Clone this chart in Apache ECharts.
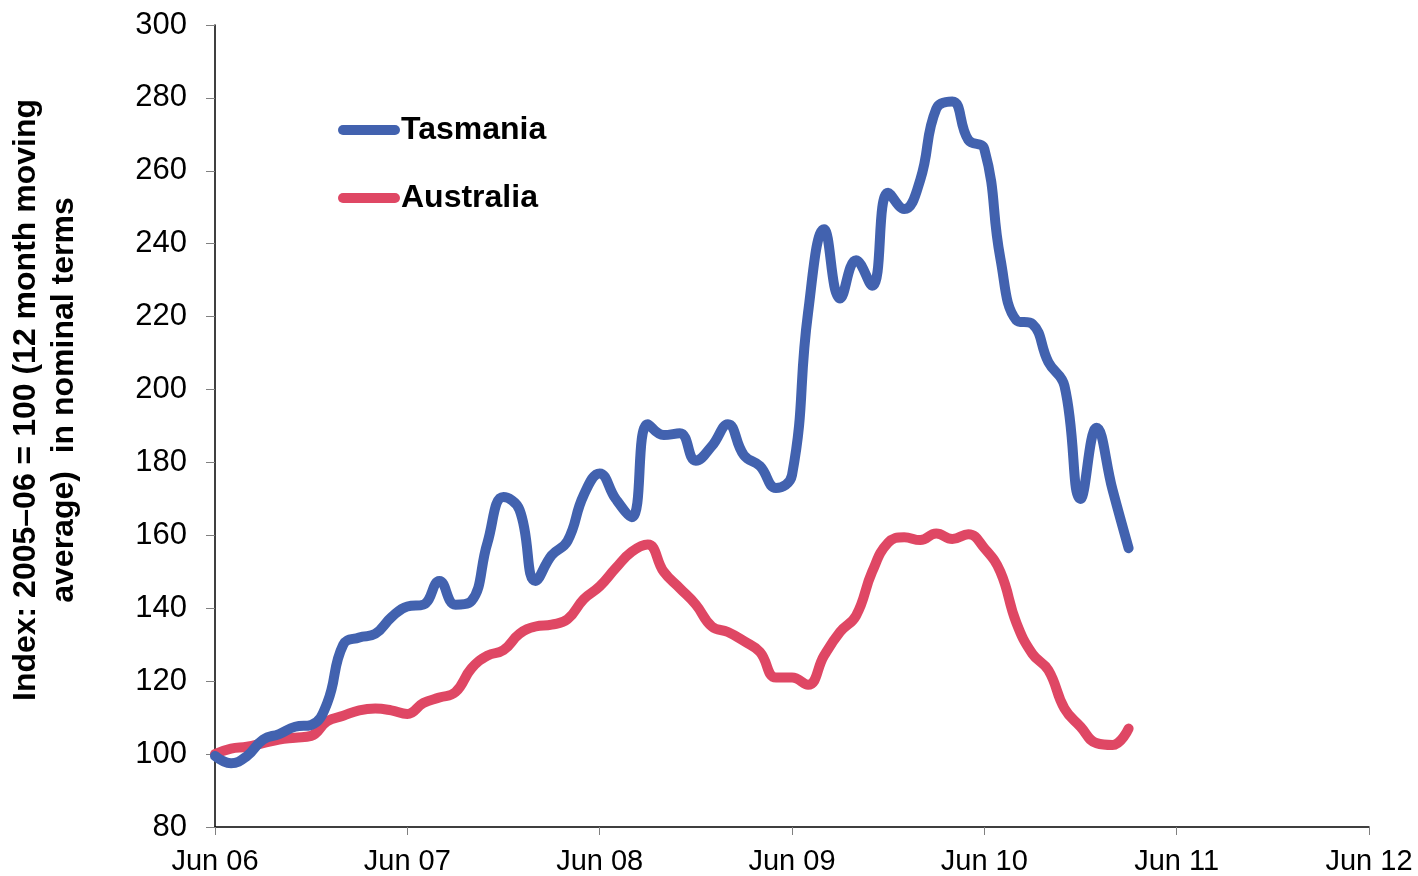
<!DOCTYPE html>
<html>
<head>
<meta charset="utf-8">
<title>Tasmania vs Australia index</title>
<script src="https://cdn.jsdelivr.net/npm/echarts@6/dist/echarts.min.js"></script>
<style>
  html, body { margin: 0; padding: 0; background: #fff; }
  #chart { width: 1418px; height: 876px; }
</style>
</head>
<body>
<div id="chart"></div>
<script>
// monthly points, Jun 06 .. Mar 11
const tasmania = [
  99.5, 97.5, 99.5, 104, 105.5, 107.5, 108, 114, 130, 132,
  133, 137.5, 140.5, 141, 147.5, 141, 142, 158, 170.5, 167,
  147.5, 154.5, 158.5, 171, 177, 170, 165, 190.5, 187.5, 188,
  180.5, 184.5, 190.5, 182, 179, 173, 176.5, 221, 244, 225,
  235.5, 228.5, 254, 249.5, 257.5, 277, 279, 268.5, 266, 236,
  219, 218, 207.5, 201, 170, 189.5, 172.5, 156.5
];
const australia = [
  100, 101.5, 102, 103, 104, 104.5, 105, 109, 110.5, 112,
  112.5, 112, 111, 114, 115.5, 117, 123.5, 127, 128.5, 133,
  135, 135.5, 137, 142.5, 146, 151, 155.5, 157.5, 150, 145.5,
  141, 135, 133.5, 131, 128, 121, 121, 119, 127, 133.5,
  138, 150, 158, 159.5, 158.7, 160.5, 159, 160.3, 156.5, 150,
  136, 127.5, 123, 112.5, 107.5, 103, 102.5, 107
];
const tickLabels = ['Jun 06', 'Jun 07', 'Jun 08', 'Jun 09', 'Jun 10', 'Jun 11', 'Jun 12'];
const monthNames = ['Jun', 'Jul', 'Aug', 'Sep', 'Oct', 'Nov', 'Dec', 'Jan', 'Feb', 'Mar', 'Apr', 'May'];

// one category per month, Jun 06 to Jun 12
const categories = [];
for (let i = 0; i <= 72; i++) {
  if (i % 12 === 0) {
    categories.push(tickLabels[i / 12]);
  } else {
    const yr = 6 + Math.floor((i + 5) / 12);
    categories.push(monthNames[i % 12] + ' ' + String(yr).padStart(2, '0'));
  }
}

const chart = echarts.init(document.getElementById('chart'));

const axisFont = 'Arial, "Liberation Sans", sans-serif';

const option = {
  animation: false,
  backgroundColor: '#ffffff',
  grid: { left: 215, right: 49, top: 25, bottom: 49 },
  legend: {
    orient: 'vertical',
    left: 338,
    top: 112,
    padding: 0,
    itemWidth: 62,
    itemHeight: 10,
    itemGap: 32,
    icon: 'path://M5,0 H57 A5,5 0 0 1 57,10 H5 A5,5 0 0 1 5,0 Z',
    textStyle: {
      fontFamily: axisFont,
      fontSize: 32,
      fontWeight: 'bold',
      color: '#000',
      lineHeight: 36,
      padding: [0, 0, 0, -4]
    },
    data: ['Tasmania', 'Australia']
  },
  xAxis: {
    type: 'category',
    data: categories,
    boundaryGap: false,
    axisLine: { lineStyle: { color: '#000', width: 1.5 } },
    axisTick: { interval: 11, length: 8, lineStyle: { color: '#808080', width: 1 } },
    axisLabel: {
      interval: 11,
      margin: 20,
      fontFamily: axisFont,
      fontSize: 29,
      color: '#000'
    },
    splitLine: { show: false }
  },
  yAxis: {
    type: 'value',
    min: 80,
    max: 300,
    interval: 20,
    axisLine: { show: true, lineStyle: { color: '#000', width: 1.5 } },
    axisTick: { show: true, length: 9, lineStyle: { color: '#808080', width: 1 } },
    axisLabel: {
      margin: 28,
      fontFamily: axisFont,
      fontSize: 31,
      color: '#000'
    },
    splitLine: { show: false }
  },
  graphic: [{
    type: 'text',
    x: 45,
    y: 400,
    rotation: Math.PI / 2,
    style: {
      text: 'Index: 2005\u201306 = 100 (12 month moving\naverage)  in nominal terms',
      font: 'bold 32px Arial, "Liberation Sans", sans-serif',
      lineHeight: 38,
      align: 'center',
      verticalAlign: 'middle',
      fill: '#000'
    }
  }],
  series: [
    {
      name: 'Tasmania',
      type: 'line',
      data: tasmania,
      smooth: 0.45,
      symbol: 'none',
      lineStyle: { width: 10, color: '#4262AF', cap: 'round', join: 'round' },
      itemStyle: { color: '#4262AF' },
      z: 3
    },
    {
      name: 'Australia',
      type: 'line',
      data: australia,
      smooth: 0.45,
      symbol: 'none',
      lineStyle: { width: 10, color: '#DF4764', cap: 'round', join: 'round' },
      itemStyle: { color: '#DF4764' },
      z: 2
    }
  ]
};

chart.setOption(option);
</script>
</body>
</html>
